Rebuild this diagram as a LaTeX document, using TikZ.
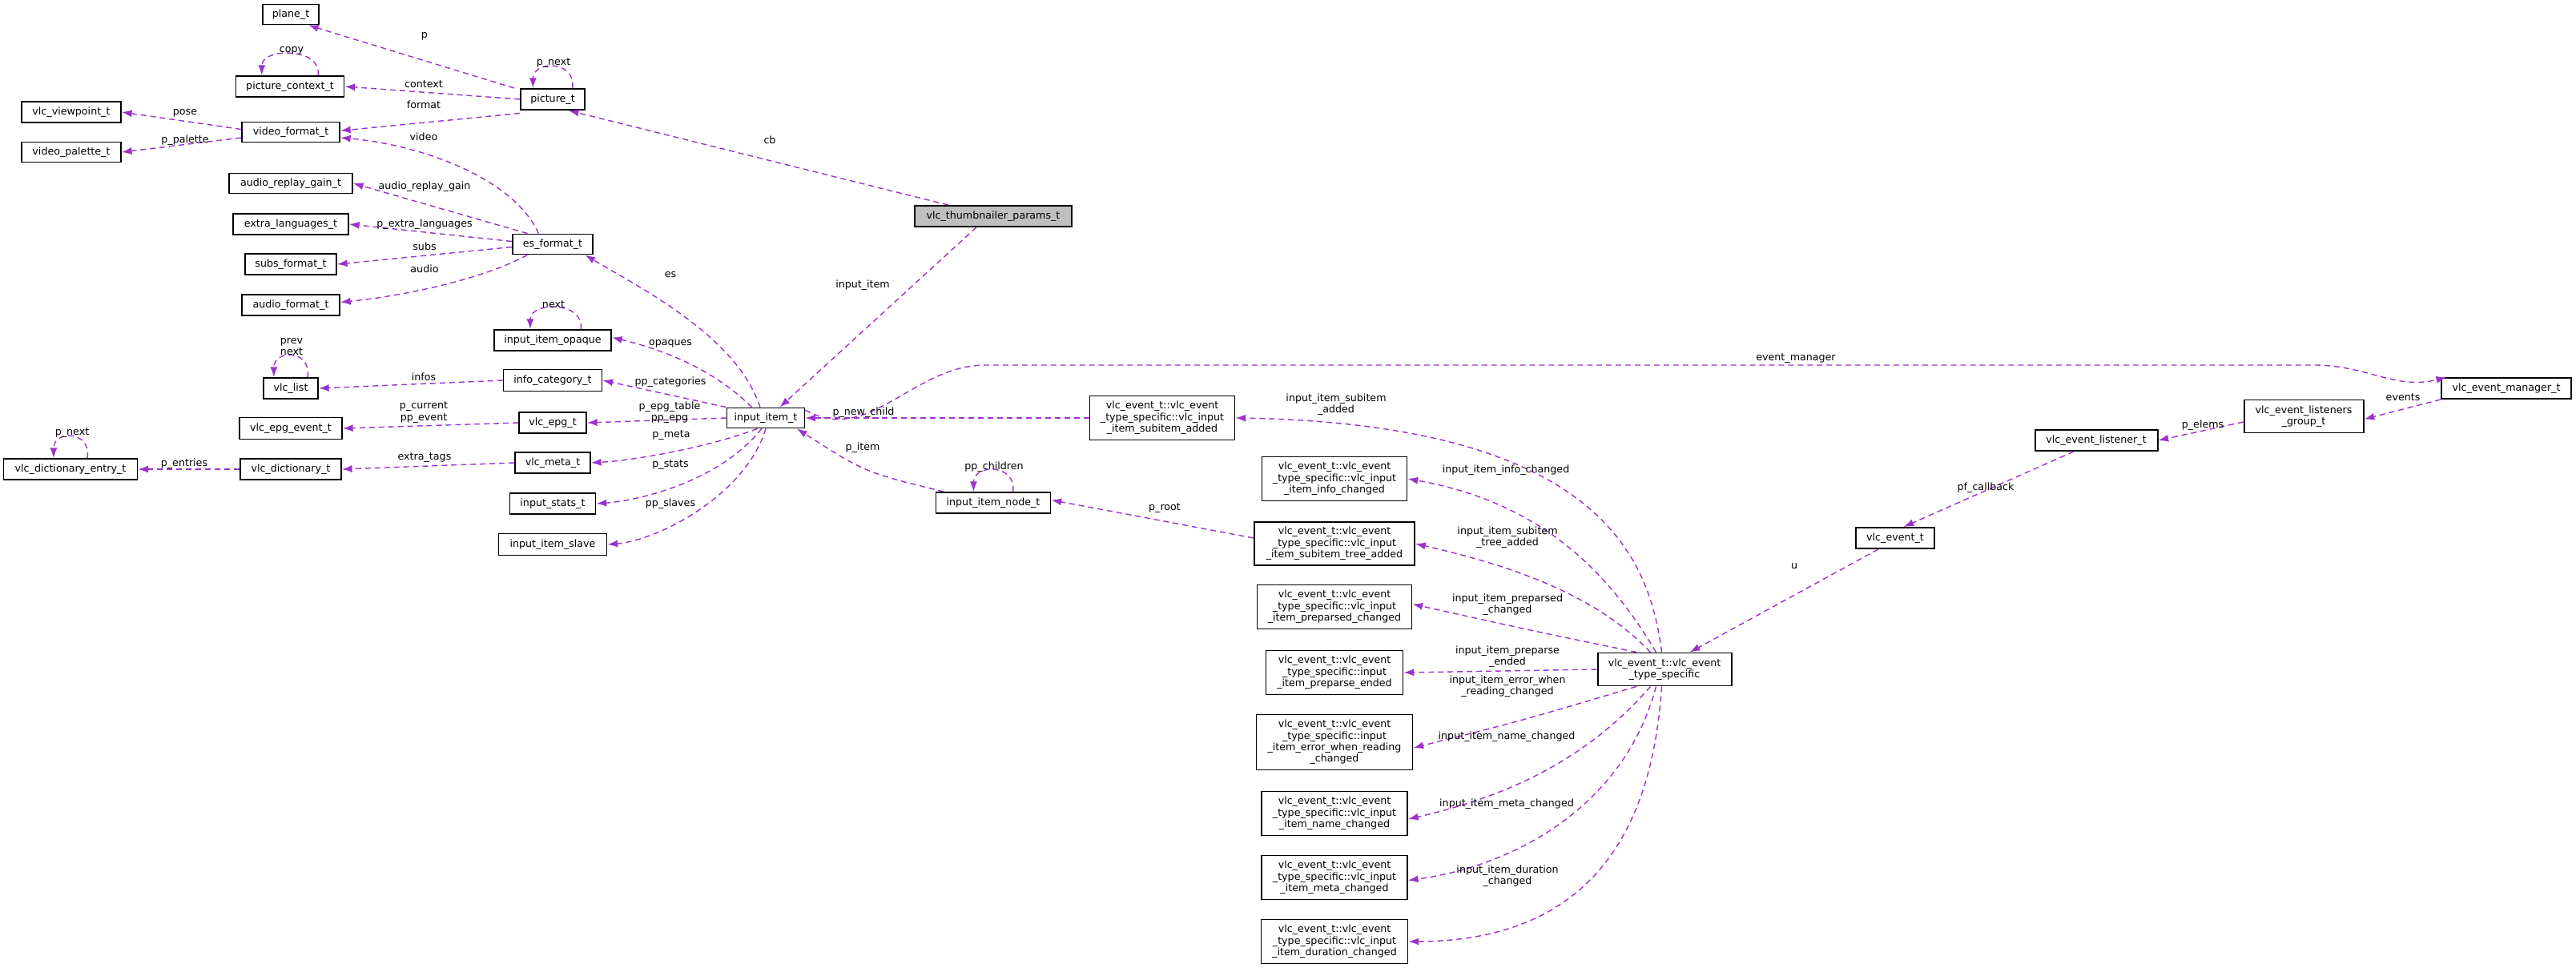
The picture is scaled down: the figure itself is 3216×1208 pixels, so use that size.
\documentclass[tikz,border=0pt]{standalone}
\usepackage{fontspec}
\setmainfont{DejaVu Sans}
\usetikzlibrary{arrows.meta}
\definecolor{edgec}{RGB}{155,50,205}
\begin{document}
\begin{tikzpicture}[x=0.01cm,y=-0.01cm,
 every node/.style={font=\fontsize{3.6}{4.1}\selectfont},
 box/.style={draw=black,line width=0.55pt,fill=white,inner sep=0pt,align=center},
 lbl/.style={align=center,inner sep=0pt},
 ed/.style={draw=edgec,line width=0.4pt,dash pattern=on 2pt off 1.4pt,-{Latex[length=3.6pt,width=2.6pt]}}]
\useasboundingbox (0,0) rectangle (3216,1208);
\newcommand{\bx}[5]{\node[box,minimum width=#3*0.01cm,minimum height=#4*0.01cm] (#1) at (#2) {#5};}
\bx{plane}{363,18}{70}{25}{plane\_t}
\bx{pctx}{362,108}{135}{26}{picture\_context\_t}
\bx{viewpoint}{89,140}{124}{26}{vlc\_viewpoint\_t}
\bx{vfmt}{363,165}{122}{25}{video\_format\_t}
\bx{vpal}{89,190}{124}{25}{video\_palette\_t}
\bx{pict}{690,124}{80}{26}{picture\_t}
\bx{arg}{363,229}{154}{25}{audio\_replay\_gain\_t}
\bx{extl}{363,280}{144}{26}{extra\_languages\_t}
\bx{subs}{363,330}{114}{26}{subs\_format\_t}
\bx{afmt}{363,381}{122}{26}{audio\_format\_t}
\bx{esf}{690,305}{100}{25}{es\_format\_t}
\node[box,fill=black!25,minimum width=1.96cm,minimum height=0.26cm] (thumb) at (1240,270) {vlc\_thumbnailer\_params\_t};
\bx{opaque}{690,425}{146}{26}{input\_item\_opaque}
\bx{vlclist}{363,485}{68}{26}{vlc\_list}
\bx{infocat}{690,475}{123}{27}{info\_category\_t}
\bx{epgev}{363,535}{128}{27}{vlc\_epg\_event\_t}
\bx{epg}{690,528}{84}{26}{vlc\_epg\_t}
\bx{dictent}{88,586}{167}{26}{vlc\_dictionary\_entry\_t}
\bx{dict}{363,586}{126}{26}{vlc\_dictionary\_t}
\bx{meta}{690,578}{94}{26}{vlc\_meta\_t}
\bx{stats}{690,629}{107}{26}{input\_stats\_t}
\bx{slave}{690,680}{135}{27}{input\_item\_slave}
\bx{item}{956,522}{97}{25}{input\_item\_t}
\bx{subadd}{1451,522}{181}{55}{vlc\_event\_t::vlc\_event\\\_type\_specific::vlc\_input\\\_item\_subitem\_added}
\bx{nodet}{1240,628}{143}{26}{input\_item\_node\_t}
\bx{infochg}{1666,598}{181}{55}{vlc\_event\_t::vlc\_event\\\_type\_specific::vlc\_input\\\_item\_info\_changed}
\bx{treeadd}{1666,679}{200}{54}{vlc\_event\_t::vlc\_event\\\_type\_specific::vlc\_input\\\_item\_subitem\_tree\_added}
\bx{prepchg}{1666,758}{193}{55}{vlc\_event\_t::vlc\_event\\\_type\_specific::vlc\_input\\\_item\_preparsed\_changed}
\bx{prepend}{1666,840}{171}{55}{vlc\_event\_t::vlc\_event\\\_type\_specific::input\\\_item\_preparse\_ended}
\bx{errread}{1666,927}{195}{69}{vlc\_event\_t::vlc\_event\\\_type\_specific::input\\\_item\_error\_when\_reading\\\_changed}
\bx{namechg}{1666,1016}{182}{55}{vlc\_event\_t::vlc\_event\\\_type\_specific::vlc\_input\\\_item\_name\_changed}
\bx{metachg}{1666,1096}{182}{55}{vlc\_event\_t::vlc\_event\\\_type\_specific::vlc\_input\\\_item\_meta\_changed}
\bx{durchg}{1666,1176}{183}{55}{vlc\_event\_t::vlc\_event\\\_type\_specific::vlc\_input\\\_item\_duration\_changed}
\bx{tspec}{2078,836}{167}{41}{vlc\_event\_t::vlc\_event\\\_type\_specific}
\bx{evt}{2366,672}{98}{26}{vlc\_event\_t}
\bx{listener}{2617,550}{153}{26}{vlc\_event\_listener\_t}
\bx{group}{2876,520}{149}{41}{vlc\_event\_listeners\\\_group\_t}
\bx{mgr}{3129,485}{162}{26}{vlc\_event\_manager\_t}
\coordinate (em1) at (1230,456);
\coordinate (em2) at (2890,456);
% edges
\draw[ed] ([xshift=-2pt]pict.north west) -- ([xshift=-4pt]plane.south east);
\draw[ed] ([xshift=7pt]pict.north) .. controls +(5,-35) and +(0,-35) .. ([xshift=-7pt]pict.north);
\draw[ed] ([xshift=10pt]pctx.north) .. controls +(5,-35) and +(0,-35) .. ([xshift=-10pt]pctx.north);
\draw[ed] (pict.west) -- (pctx.east);
\draw[ed] ([yshift=-1pt]pict.south west) -- ([yshift=0.5pt]vfmt.east);
\draw[ed] ([yshift=1pt]vfmt.west) -- (viewpoint.east);
\draw[ed] ([yshift=-2pt]vfmt.west) -- (vpal.east);
\draw[ed] ([xshift=-5pt]esf.north) .. controls (640,220) and (520,180) .. ([yshift=-2pt]vfmt.east);
\draw[ed] ([xshift=-9pt]esf.north) -- (arg.east);
\draw[ed] ([yshift=1pt]esf.west) -- (extl.east);
\draw[ed] ([yshift=-1pt]esf.west) -- (subs.east);
\draw[ed] ([xshift=-9pt]esf.south) .. controls (600,350) and (500,370) .. ([yshift=1pt]afmt.east);
\draw[ed] ([xshift=-16pt]thumb.north) -- ([xshift=-6pt]pict.south east);
\draw[ed] ([xshift=-2pt]item.north) .. controls (920,420) and (800,360) .. ([xshift=-3pt]esf.south east);
\draw[ed] ([xshift=-6pt]thumb.south) -- ([xshift=5pt]item.north);
\draw[ed] ([xshift=10pt]opaque.north) .. controls +(5,-35) and +(0,-35) .. ([xshift=-8pt]opaque.north);
\draw[ed] ([xshift=-5pt]item.north) .. controls (880,450) and (800,430) .. ([yshift=1pt]opaque.east);
\draw[ed] ([xshift=6pt]vlclist.north) .. controls +(5,-35) and +(0,-35) .. ([xshift=-6pt]vlclist.north);
\draw[ed] (infocat.west) -- (vlclist.east);
\draw[ed] (item.north west) -- (infocat.east);
\draw[ed] (epg.west) -- (epgev.east);
\draw[ed] (item.west) -- (epg.east);
\draw[ed] ([xshift=6pt]dictent.north) .. controls +(5,-35) and +(0,-35) .. ([xshift=-6pt]dictent.north);
\draw[ed] (dict.west) -- (dictent.east);
\draw[ed] (meta.west) -- (dict.east);
\draw[ed] ([xshift=-3pt]item.south) .. controls (880,560) and (790,575) .. (meta.east);
\draw[ed] ([xshift=-1.5pt]item.south) .. controls (900,600) and (800,625) .. (stats.east);
\draw[ed] (item.south) .. controls (930,620) and (820,675) .. (slave.east);
\draw[ed] ([yshift=-1pt]item.north east) to[out=-30,in=180] (em1) -- (em2) to[out=0,in=-165] ([xshift=2pt]mgr.north west);
\draw[ed] (subadd.west) -- (item.east);
\draw[ed] ([xshift=3pt]nodet.north west) .. controls (1080,590) .. ([xshift=-3pt]item.south east);
\draw[ed] ([xshift=7pt]nodet.north) .. controls +(5,-35) and +(0,-35) .. ([xshift=-7pt]nodet.north);
\draw[ed] ([yshift=2pt]treeadd.west) -- ([yshift=1pt]nodet.east);
\draw[ed] ([xshift=-1pt]tspec.north) .. controls (2060,700) and (2000,530) .. (subadd.east);
\draw[ed] ([xshift=-3pt]tspec.north) .. controls (2000,700) and (1910,625) .. (infochg.east);
\draw[ed] ([xshift=-5pt]tspec.north) .. controls (1990,740) and (1880,705) .. (treeadd.east);
\draw[ed] ([xshift=-10pt]tspec.north) .. controls (1900,785) .. ([yshift=1pt]prepchg.east);
\draw[ed] (tspec.west) -- (prepend.east);
\draw[ed] ([xshift=-10pt]tspec.south) .. controls (1900,900) .. ([yshift=-2pt]errread.east);
\draw[ed] ([xshift=-5pt]tspec.south) .. controls (1980,950) and (1880,995) .. ([yshift=-2pt]namechg.east);
\draw[ed] ([xshift=-3pt]tspec.south) .. controls (2030,1000) and (1900,1080) .. ([yshift=-1pt]metachg.east);
\draw[ed] ([xshift=-1pt]tspec.south) .. controls (2060,1080) and (1950,1175) .. (durchg.east);
\draw[ed] ([xshift=-6pt]evt.south) -- ([xshift=-15pt]tspec.north east);
\draw[ed] ([xshift=-8pt]listener.south) -- ([xshift=3pt]evt.north);
\draw[ed] ([yshift=-2pt]group.west) -- (listener.east);
\draw[ed] (mgr.south west) -- ([yshift=-1pt]group.east);
% labels
\node[lbl] (l1) at (530,45) {p};
\node[lbl] (l2) at (691,79) {p\_next};
\node[lbl] (l3) at (364,63) {copy};
\node[lbl] (l4) at (529,105) {context};
\node[lbl] (l5) at (529,131) {format};
\node[lbl] (l6) at (231,141) {pose};
\node[lbl] (l7) at (231,175) {p\_palette};
\node[lbl] (l8) at (529,171) {video};
\node[lbl] (l9) at (530,233) {audio\_replay\_gain};
\node[lbl] (l10) at (530,280) {p\_extra\_languages};
\node[lbl] (l11) at (530,308) {subs};
\node[lbl] (l12) at (530,336) {audio};
\node[lbl] (l13) at (961,175) {cb};
\node[lbl] (l14) at (837,343) {es};
\node[lbl] (l15) at (1077,356) {input\_item};
\node[lbl] (l16) at (691,380) {next};
\node[lbl] (l17) at (837,429) {opaques};
\node[lbl] (l18) at (364,433) {prev\\next};
\node[lbl] (l19) at (529,471) {infos};
\node[lbl] (l20) at (837,477) {pp\_categories};
\node[lbl] (l21) at (529,515) {p\_current\\pp\_event};
\node[lbl] (l22) at (836,515) {p\_epg\_table\\pp\_epg};
\node[lbl] (l23) at (90,541) {p\_next};
\node[lbl] (l24) at (230,579) {p\_entries};
\node[lbl] (l25) at (530,572) {extra\_tags};
\node[lbl] (l26) at (838,544) {p\_meta};
\node[lbl] (l27) at (837,581) {p\_stats};
\node[lbl] (l28) at (837,629) {pp\_slaves};
\node[lbl] (l29) at (2242,448) {event\_manager};
\node[lbl] (l30) at (1078,515) {p\_new\_child};
\node[lbl] (l31) at (1077,559) {p\_item};
\node[lbl] (l32) at (1241,583) {pp\_children};
\node[lbl] (l33) at (1454,635) {p\_root};
\node[lbl] (l34) at (1668,505) {input\_item\_subitem\\\_added};
\node[lbl] (l35) at (1880,587) {input\_item\_info\_changed};
\node[lbl] (l36) at (1882,671) {input\_item\_subitem\\\_tree\_added};
\node[lbl] (l37) at (1882,755) {input\_item\_preparsed\\\_changed};
\node[lbl] (l38) at (1882,820) {input\_item\_preparse\\\_ended};
\node[lbl] (l39) at (1882,857) {input\_item\_error\_when\\\_reading\_changed};
\node[lbl] (l40) at (1881,920) {input\_item\_name\_changed};
\node[lbl] (l41) at (1881,1004) {input\_item\_meta\_changed};
\node[lbl] (l42) at (1882,1094) {input\_item\_duration\\\_changed};
\node[lbl] (l43) at (2240,707) {u};
\node[lbl] (l44) at (2479,609) {pf\_callback};
\node[lbl] (l45) at (2750,531) {p\_elems};
\node[lbl] (l46) at (3000,496) {events};
\end{tikzpicture}
\end{document}
